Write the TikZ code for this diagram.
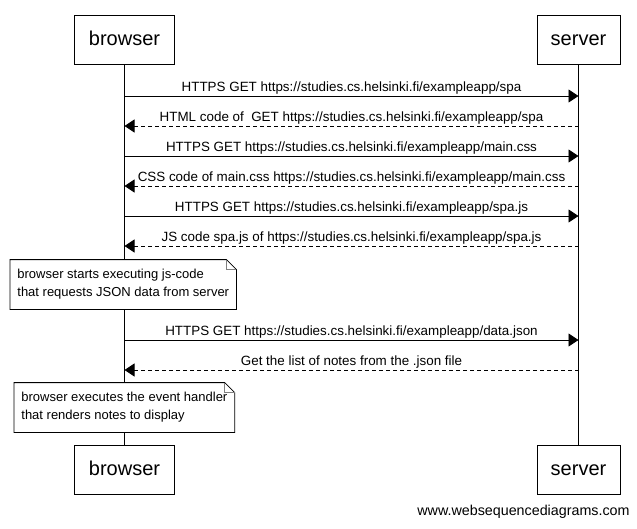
\documentclass[tikz,border=0pt]{standalone}
\usepackage{fontspec}
\setmainfont{Liberation Sans}
\usetikzlibrary{arrows.meta}

\begin{document}
\begin{tikzpicture}[x=1pt,y=-1pt,line width=0.8pt,
  actor/.style={draw,fill=white,minimum height=49pt,text height=15pt,text depth=4pt,font=\fontsize{20}{24}\selectfont},
  note/.style={fill=white,align=left,anchor=west,inner xsep=7pt,minimum height=49pt,font=\fontsize{13}{18}\selectfont},
  req/.style={-{Triangle[length=10pt,width=13pt]}},
  resp/.style={req,dash pattern=on 4pt off 3pt},
  msglabel/.style={above,inner sep=1.5pt,font=\fontsize{13.4}{15}\selectfont}]
\useasboundingbox (0,0) rectangle (637,528);
\node[actor,minimum width=100pt] (browser-top) at (124.5,39.5) {browser};
\node[actor,minimum width=83pt] (server-top) at (578.5,39.5) {server};
\node[actor,minimum width=100pt] (browser-bot) at (124.5,469.5) {browser};
\node[actor,minimum width=83pt] (server-bot) at (578.5,469.5) {server};
\draw (browser-top) -- (browser-bot);
\draw (server-top) -- (server-bot);
\foreach \y [count=\i] in {96,126,156,186,216,246,340,370}
  {\coordinate (b\i) at (124.5,\y); \coordinate (s\i) at (578.5,\y);}
\draw[req] (b1) -- node[msglabel] {HTTPS GET https://studies.cs.helsinki.fi/exampleapp/spa} (s1);
\draw[resp] (s2) -- node[msglabel] {HTML code of\ \ GET https://studies.cs.helsinki.fi/exampleapp/spa} (b2);
\draw[req] (b3) -- node[msglabel] {HTTPS GET https://studies.cs.helsinki.fi/exampleapp/main.css} (s3);
\draw[resp] (s4) -- node[msglabel] {CSS code of main.css https://studies.cs.helsinki.fi/exampleapp/main.css} (b4);
\draw[req] (b5) -- node[msglabel] {HTTPS GET https://studies.cs.helsinki.fi/exampleapp/spa.js} (s5);
\draw[resp] (s6) -- node[msglabel] {JS code spa.js of https://studies.cs.helsinki.fi/exampleapp/spa.js} (b6);
\node[note] (n1) at (10,284.5) {browser starts executing js-code\\that requests JSON data from server};
\draw (n1.north west) -- ([xshift=-10pt]n1.north east) -- ([yshift=-10pt]n1.north east) -- (n1.south east) -- (n1.south west) -- cycle;
\draw[gray] ([xshift=-10pt]n1.north east) |- ([yshift=-10pt]n1.north east);
\draw[req] (b7) -- node[msglabel] {HTTPS GET https://studies.cs.helsinki.fi/exampleapp/data.json} (s7);
\draw[resp] (s8) -- node[msglabel] {Get the list of notes from the .json file} (b8);
\node[note] (n2) at (14,407.5) {browser executes the event handler\\that renders notes to display};
\draw (n2.north west) -- ([xshift=-10pt]n2.north east) -- ([yshift=-10pt]n2.north east) -- (n2.south east) -- (n2.south west) -- cycle;
\draw[gray] ([xshift=-10pt]n2.north east) |- ([yshift=-10pt]n2.north east);
\node[anchor=south east,inner sep=0pt,font=\fontsize{14.3}{16}\selectfont] (credit) at (630,519) {www.websequencediagrams.com};
\end{tikzpicture}
\end{document}
